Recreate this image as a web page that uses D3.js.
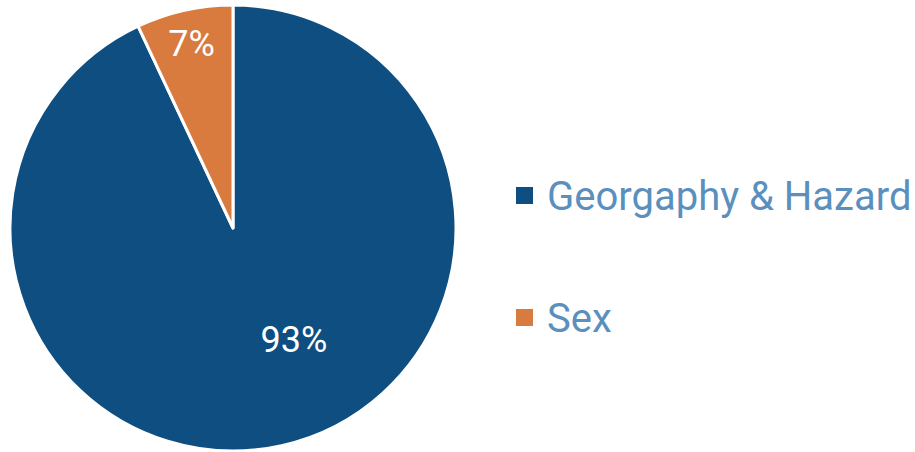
<!DOCTYPE html>
<html>
<head>
<meta charset="utf-8">
<script src="https://cdn.jsdelivr.net/npm/d3@7"></script>
<style>
  body { margin: 0; background: #fff; }
  svg text { font-family: Roboto, "Noto Sans", sans-serif; }
  .label { fill: #fff; font-size: 36px; text-anchor: middle; }
  .legend { fill: #5a8fbe; font-size: 40px; }
</style>
</head>
<body>
<svg class="pie" width="915" height="452"></svg>
<script>
const categories = ["Georgaphy & Hazard", "Sex"];
const shares = [93, 7];
const colors = ["#0e4e81", "#d97b3e"];

const svg = d3.select("svg.pie");
const cx = 233, cy = 228, radius = 223;

//* pie layout, clockwise from 12 o'clock in the given order
const pie = d3.pie().sort(null).value((d) => d.value);
const arcs = pie(categories.map((c, i) => ({ name: c, value: shares[i] })));
const arc = d3.arc().innerRadius(0).outerRadius(radius);

const g = svg.append("g").attr("transform", `translate(${cx}, ${cy})`);

g.selectAll("path")
	.data(arcs)
	.enter()
	.append("path")
	.attr("d", arc)
	.attr("fill", (_, i) => colors[i])
	.attr("stroke", "#fff")
	.attr("stroke-width", 3)
	.attr("stroke-linejoin", "round");

//* labels: big slice gets pulled toward the lower right (best-fit style), small one near rim
const labelRadius = (d) => (d.endAngle - d.startAngle > Math.PI ? 0.57 : 0.85) * radius;
const labelAngle = (d) => {
	const mid = (d.startAngle + d.endAngle) / 2;
	return d.endAngle - d.startAngle > Math.PI ? mid - 0.28 : mid;
};
g.selectAll("text.label")
	.data(arcs)
	.enter()
	.append("text")
	.attr("class", "label")
	.attr("x", (d) => labelRadius(d) * Math.sin(labelAngle(d)))
	.attr("y", (d) => -labelRadius(d) * Math.cos(labelAngle(d)))
	.attr("dy", "0.35em")
	.text((d) => d.data.value + "%");

//* legend
const legendY = d3.scaleOrdinal().domain(categories).range([196, 318]);
const legend = svg
	.selectAll("g.legend-item")
	.data(categories)
	.enter()
	.append("g")
	.attr("class", "legend-item")
	.attr("transform", (d) => `translate(516, ${legendY(d)})`);
legend
	.append("rect")
	.attr("x", 0)
	.attr("y", -9)
	.attr("width", 17)
	.attr("height", 17)
	.attr("fill", (_, i) => colors[i]);
legend
	.append("text")
	.attr("class", "legend")
	.attr("x", 31)
	.attr("y", 0)
	.attr("dy", "0.35em")
	.text((d) => d);
</script>
</body>
</html>
